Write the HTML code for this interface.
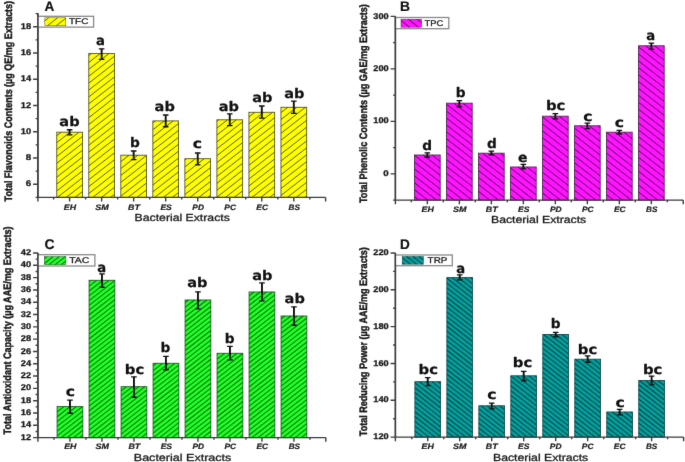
<!DOCTYPE html>
<html lang="en">
<head>
<meta charset="utf-8">
<title>Bacterial Extracts: TFC, TPC, TAC, TRP</title>
<style>
html,body{margin:0;padding:0;background:#fff;}
body{width:685px;height:462px;overflow:hidden;}
svg{display:block;font-family:"Liberation Sans",Arial,Helvetica,sans-serif;text-rendering:geometricPrecision;}
</style>
</head>
<body>
<svg width="685" height="462" viewBox="0 0 685 462">
<defs>
<filter id="soft" filterUnits="userSpaceOnUse" x="0" y="0" width="685" height="462" color-interpolation-filters="sRGB"><feConvolveMatrix order="3" kernelMatrix="0.0052 0.0619 0.0052 0.0619 0.7314 0.0619 0.0052 0.0619 0.0052" edgeMode="duplicate" preserveAlpha="true"/></filter>
</defs>
<g filter="url(#soft)">
<rect width="685" height="462" fill="#fff"/>
<g id="panelA">
<rect x="56.75" y="132.2" width="25.7" height="65.2" fill="#ffff00"/><path d="M56.75 135.74L61.28 132.2M56.75 142.64L70.13 132.2M56.75 149.54L78.97 132.2M56.75 156.44L82.45 136.39M56.75 163.34L82.45 143.29M56.75 170.24L82.45 150.19M56.75 177.14L82.45 157.09M56.75 184.04L82.45 163.99M56.75 190.94L82.45 170.89M57.31 197.4L82.45 177.79M66.15 197.4L82.45 184.69M75 197.4L82.45 191.59" fill="none" stroke="#555500" stroke-width="0.95"/><rect x="56.75" y="132.2" width="25.7" height="65.2" fill="none" stroke="#55552a" stroke-width="0.9"/>
<rect x="88.78" y="53.5" width="25.7" height="143.9" fill="#ffff00"/><path d="M88.78 55.55L91.41 53.5M88.78 62.45L100.26 53.5M88.78 69.35L109.1 53.5M88.78 76.25L114.48 56.21M88.78 83.15L114.48 63.11M88.78 90.05L114.48 70.01M88.78 96.95L114.48 76.91M88.78 103.85L114.48 83.81M88.78 110.75L114.48 90.71M88.78 117.65L114.48 97.61M88.78 124.55L114.48 104.51M88.78 131.45L114.48 111.41M88.78 138.35L114.48 118.31M88.78 145.25L114.48 125.21M88.78 152.15L114.48 132.11M88.78 159.05L114.48 139.01M88.78 165.95L114.48 145.91M88.78 172.85L114.48 152.81M88.78 179.75L114.48 159.71M88.78 186.65L114.48 166.61M88.78 193.55L114.48 173.51M92.69 197.4L114.48 180.41M101.54 197.4L114.48 187.31M110.38 197.4L114.48 194.21" fill="none" stroke="#555500" stroke-width="0.95"/><rect x="88.78" y="53.5" width="25.7" height="143.9" fill="none" stroke="#55552a" stroke-width="0.9"/>
<rect x="120.81" y="155.2" width="25.7" height="42.2" fill="#ffff00"/><path d="M120.81 161.67L129.1 155.2M120.81 168.57L137.95 155.2M120.81 175.47L146.51 155.42M120.81 182.37L146.51 162.32M120.81 189.27L146.51 169.22M120.81 196.17L146.51 176.12M128.08 197.4L146.51 183.02M136.92 197.4L146.51 189.92M145.77 197.4L146.51 196.82" fill="none" stroke="#555500" stroke-width="0.95"/><rect x="120.81" y="155.2" width="25.7" height="42.2" fill="none" stroke="#55552a" stroke-width="0.9"/>
<rect x="152.84" y="120.9" width="25.7" height="76.5" fill="#ffff00"/><path d="M152.84 122.88L155.38 120.9M152.84 129.78L164.23 120.9M152.84 136.68L173.08 120.9M152.84 143.58L178.54 123.54M152.84 150.48L178.54 130.44M152.84 157.38L178.54 137.34M152.84 164.28L178.54 144.24M152.84 171.18L178.54 151.14M152.84 178.08L178.54 158.04M152.84 184.98L178.54 164.94M152.84 191.88L178.54 171.84M154.62 197.4L178.54 178.74M163.46 197.4L178.54 185.64M172.31 197.4L178.54 192.54" fill="none" stroke="#555500" stroke-width="0.95"/><rect x="152.84" y="120.9" width="25.7" height="76.5" fill="none" stroke="#55552a" stroke-width="0.9"/>
<rect x="184.87" y="158.7" width="25.7" height="38.7" fill="#ffff00"/><path d="M184.87 160L186.54 158.7M184.87 166.9L195.38 158.7M184.87 173.8L204.23 158.7M184.87 180.7L210.57 160.66M184.87 187.6L210.57 167.56M184.87 194.5L210.57 174.46M190 197.4L210.57 181.36M198.85 197.4L210.57 188.26M207.69 197.4L210.57 195.16" fill="none" stroke="#555500" stroke-width="0.95"/><rect x="184.87" y="158.7" width="25.7" height="38.7" fill="none" stroke="#55552a" stroke-width="0.9"/>
<rect x="216.9" y="119.8" width="25.7" height="77.6" fill="#ffff00"/><path d="M216.9 121.22L218.72 119.8M216.9 128.12L227.56 119.8M216.9 135.02L236.41 119.8M216.9 141.92L242.6 121.87M216.9 148.82L242.6 128.77M216.9 155.72L242.6 135.67M216.9 162.62L242.6 142.57M216.9 169.52L242.6 149.47M216.9 176.42L242.6 156.37M216.9 183.32L242.6 163.27M216.9 190.22L242.6 170.17M216.9 197.12L242.6 177.07M225.38 197.4L242.6 183.97M234.23 197.4L242.6 190.87" fill="none" stroke="#555500" stroke-width="0.95"/><rect x="216.9" y="119.8" width="25.7" height="77.6" fill="none" stroke="#55552a" stroke-width="0.9"/>
<rect x="248.93" y="112.3" width="25.7" height="85.1" fill="#ffff00"/><path d="M248.93 116.93L254.87 112.3M248.93 123.83L263.72 112.3M248.93 130.73L272.56 112.3M248.93 137.63L274.63 117.59M248.93 144.53L274.63 124.49M248.93 151.43L274.63 131.39M248.93 158.33L274.63 138.29M248.93 165.23L274.63 145.19M248.93 172.13L274.63 152.09M248.93 179.03L274.63 158.99M248.93 185.93L274.63 165.89M248.93 192.83L274.63 172.79M251.92 197.4L274.63 179.69M260.77 197.4L274.63 186.59M269.62 197.4L274.63 193.49" fill="none" stroke="#555500" stroke-width="0.95"/><rect x="248.93" y="112.3" width="25.7" height="85.1" fill="none" stroke="#55552a" stroke-width="0.9"/>
<rect x="280.96" y="107.3" width="25.7" height="90.1" fill="#ffff00"/><path d="M280.96 112.65L287.82 107.3M280.96 119.55L296.67 107.3M280.96 126.45L305.51 107.3M280.96 133.35L306.66 113.31M280.96 140.25L306.66 120.21M280.96 147.15L306.66 127.11M280.96 154.05L306.66 134.01M280.96 160.95L306.66 140.91M280.96 167.85L306.66 147.81M280.96 174.75L306.66 154.71M280.96 181.65L306.66 161.61M280.96 188.55L306.66 168.51M280.96 195.45L306.66 175.41M287.31 197.4L306.66 182.31M296.15 197.4L306.66 189.21M305 197.4L306.66 196.11" fill="none" stroke="#555500" stroke-width="0.95"/><rect x="280.96" y="107.3" width="25.7" height="90.1" fill="none" stroke="#55552a" stroke-width="0.9"/>
<path d="M37.9 13.2V197.4H325.6" fill="none" stroke="#3c3c3c" stroke-width="1.4"/>
<path d="M33.1 184.27H37.9M33.1 158.01H37.9M33.1 131.75H37.9M33.1 105.49H37.9M33.1 79.23H37.9M33.1 52.97H37.9M33.1 26.71H37.9M35.6 197.4H37.9M35.6 171.14H37.9M35.6 144.88H37.9M35.6 118.62H37.9M35.6 92.36H37.9M35.6 66.1H37.9M35.6 39.84H37.9M35.6 13.58H37.9M37.9 197.4V201.5M53.58 197.4V199.6M69.6 197.4V201.5M85.61 197.4V199.6M101.63 197.4V201.5M117.64 197.4V199.6M133.66 197.4V201.5M149.68 197.4V199.6M165.69 197.4V201.5M181.7 197.4V199.6M197.72 197.4V201.5M213.73 197.4V199.6M229.75 197.4V201.5M245.77 197.4V199.6M261.78 197.4V201.5M277.79 197.4V199.6M293.81 197.4V201.5M309.83 197.4V199.6M325.6 197.4V201.5" fill="none" stroke="#3c3c3c" stroke-width="1.4"/>
<text x="25.7" y="186.37" font-size="8.3" fill="#1a1a1a" stroke="#1a1a1a" stroke-width="0.3" stroke-linejoin="round" font-weight="bold" textLength="5.4" lengthAdjust="spacingAndGlyphs">6</text>
<text x="25.7" y="160.11" font-size="8.3" fill="#1a1a1a" stroke="#1a1a1a" stroke-width="0.3" stroke-linejoin="round" font-weight="bold" textLength="5.4" lengthAdjust="spacingAndGlyphs">8</text>
<text x="20.8" y="133.85" font-size="8.3" fill="#1a1a1a" stroke="#1a1a1a" stroke-width="0.3" stroke-linejoin="round" font-weight="bold" textLength="10.3" lengthAdjust="spacingAndGlyphs">10</text>
<text x="20.8" y="107.59" font-size="8.3" fill="#1a1a1a" stroke="#1a1a1a" stroke-width="0.3" stroke-linejoin="round" font-weight="bold" textLength="10.3" lengthAdjust="spacingAndGlyphs">12</text>
<text x="20.8" y="81.33" font-size="8.3" fill="#1a1a1a" stroke="#1a1a1a" stroke-width="0.3" stroke-linejoin="round" font-weight="bold" textLength="10.3" lengthAdjust="spacingAndGlyphs">14</text>
<text x="20.8" y="55.07" font-size="8.3" fill="#1a1a1a" stroke="#1a1a1a" stroke-width="0.3" stroke-linejoin="round" font-weight="bold" textLength="10.3" lengthAdjust="spacingAndGlyphs">16</text>
<text x="20.8" y="28.81" font-size="8.3" fill="#1a1a1a" stroke="#1a1a1a" stroke-width="0.3" stroke-linejoin="round" font-weight="bold" textLength="10.3" lengthAdjust="spacingAndGlyphs">18</text>
<text x="63.85" y="209.5" font-size="7.9" fill="#1a1a1a" stroke="#1a1a1a" stroke-width="0.2" stroke-linejoin="round" font-style="italic" font-weight="bold" textLength="12.3" lengthAdjust="spacingAndGlyphs">EH</text>
<text x="95.28" y="209.5" font-size="7.9" fill="#1a1a1a" stroke="#1a1a1a" stroke-width="0.2" stroke-linejoin="round" font-style="italic" font-weight="bold" textLength="13.5" lengthAdjust="spacingAndGlyphs">SM</text>
<text x="128.11" y="209.5" font-size="7.9" fill="#1a1a1a" stroke="#1a1a1a" stroke-width="0.2" stroke-linejoin="round" font-style="italic" font-weight="bold" textLength="11.9" lengthAdjust="spacingAndGlyphs">BT</text>
<text x="160.44" y="209.5" font-size="7.9" fill="#1a1a1a" stroke="#1a1a1a" stroke-width="0.2" stroke-linejoin="round" font-style="italic" font-weight="bold" textLength="11.3" lengthAdjust="spacingAndGlyphs">ES</text>
<text x="192.27" y="209.5" font-size="7.9" fill="#1a1a1a" stroke="#1a1a1a" stroke-width="0.2" stroke-linejoin="round" font-style="italic" font-weight="bold" textLength="11.7" lengthAdjust="spacingAndGlyphs">PD</text>
<text x="224.3" y="209.5" font-size="7.9" fill="#1a1a1a" stroke="#1a1a1a" stroke-width="0.2" stroke-linejoin="round" font-style="italic" font-weight="bold" textLength="11.7" lengthAdjust="spacingAndGlyphs">PC</text>
<text x="256.33" y="209.5" font-size="7.9" fill="#1a1a1a" stroke="#1a1a1a" stroke-width="0.2" stroke-linejoin="round" font-style="italic" font-weight="bold" textLength="11.7" lengthAdjust="spacingAndGlyphs">EC</text>
<text x="288.56" y="209.5" font-size="7.9" fill="#1a1a1a" stroke="#1a1a1a" stroke-width="0.2" stroke-linejoin="round" font-style="italic" font-weight="bold" textLength="11.3" lengthAdjust="spacingAndGlyphs">BS</text>
<text x="59.35" y="125.7" font-size="13.2" fill="#111" font-family="DejaVu Sans, Liberation Sans, sans-serif" stroke="#111" stroke-width="0.25" stroke-linejoin="round" font-weight="bold" textLength="20.2" lengthAdjust="spacingAndGlyphs">ab</text>
<text x="96.05" y="44.5" font-size="13.2" fill="#111" font-family="DejaVu Sans, Liberation Sans, sans-serif" stroke="#111" stroke-width="0.25" stroke-linejoin="round" font-weight="bold" textLength="8.9" lengthAdjust="spacingAndGlyphs">a</text>
<text x="130.1" y="147.4" font-size="13.2" fill="#111" font-family="DejaVu Sans, Liberation Sans, sans-serif" stroke="#111" stroke-width="0.25" stroke-linejoin="round" font-weight="bold" textLength="9.8" lengthAdjust="spacingAndGlyphs">b</text>
<text x="154.6" y="111.2" font-size="13.2" fill="#111" font-family="DejaVu Sans, Liberation Sans, sans-serif" stroke="#111" stroke-width="0.25" stroke-linejoin="round" font-weight="bold" textLength="20.2" lengthAdjust="spacingAndGlyphs">ab</text>
<text x="192.65" y="147.6" font-size="13.2" fill="#111" font-family="DejaVu Sans, Liberation Sans, sans-serif" stroke="#111" stroke-width="0.25" stroke-linejoin="round" font-weight="bold" textLength="9.3" lengthAdjust="spacingAndGlyphs">c</text>
<text x="218.7" y="110.8" font-size="13.2" fill="#111" font-family="DejaVu Sans, Liberation Sans, sans-serif" stroke="#111" stroke-width="0.25" stroke-linejoin="round" font-weight="bold" textLength="20.2" lengthAdjust="spacingAndGlyphs">ab</text>
<text x="252.3" y="102.3" font-size="13.2" fill="#111" font-family="DejaVu Sans, Liberation Sans, sans-serif" stroke="#111" stroke-width="0.25" stroke-linejoin="round" font-weight="bold" textLength="20.2" lengthAdjust="spacingAndGlyphs">ab</text>
<text x="284.2" y="97.5" font-size="13.2" fill="#111" font-family="DejaVu Sans, Liberation Sans, sans-serif" stroke="#111" stroke-width="0.25" stroke-linejoin="round" font-weight="bold" textLength="20.2" lengthAdjust="spacingAndGlyphs">ab</text>
<path d="M66.8 129.7H72.4M66.8 134.8H72.4M98.83 48.8H104.43M98.83 59.3H104.43M130.86 151H136.46M130.86 159.6H136.46M162.89 115H168.49M162.89 126.7H168.49M194.92 153H200.52M194.92 164.8H200.52M226.95 113.8H232.55M226.95 125.6H232.55M258.98 106H264.58M258.98 118.1H264.58M291.01 101.1H296.61M291.01 113.3H296.61" fill="none" stroke="#111" stroke-width="1.35"/>
<path d="M69.6 129.7V134.8M101.63 48.8V59.3M133.66 151V159.6M165.69 115V126.7M197.72 153V164.8M229.75 113.8V125.6M261.78 106V118.1M293.81 101.1V113.3" fill="none" stroke="#111" stroke-width="1.9"/>
<rect x="37.9" y="16.3" width="55.7" height="10.8" fill="#fff" stroke="#8a8a8a" stroke-width="1.3"/>
<rect x="44.8" y="17.8" width="21" height="7.9" fill="#ffff00"/><path d="M44.8 20.86L48.72 17.8M47.44 25.7L57.56 17.8M56.28 25.7L65.8 18.28M65.13 25.7L65.8 25.18" fill="none" stroke="#555500" stroke-width="0.95"/><rect x="44.8" y="17.8" width="21" height="7.9" fill="none" stroke="#55552a" stroke-width="0.5"/>
<text x="69.1" y="24.3" font-size="8.3" fill="#222" stroke="#222" stroke-width="0.3" stroke-linejoin="round" textLength="19.2" lengthAdjust="spacingAndGlyphs">TFC</text>
<path d="M37.9 13.2V197.4" fill="none" stroke="#3c3c3c" stroke-width="1.4"/>
<text x="44.6" y="10.9" font-size="13.8" fill="#111" font-family="Liberation Sans, Arial, sans-serif" stroke="#111" stroke-width="0.2" stroke-linejoin="round" font-weight="bold" textLength="9.8" lengthAdjust="spacingAndGlyphs">A</text>
<text x="-100.25" y="0" transform="translate(11.8 101.15) rotate(-90)" font-size="10.8" font-weight="bold" fill="#1a1a1a" stroke="#1a1a1a" stroke-width="0.45" textLength="200.5" lengthAdjust="spacingAndGlyphs">Total Flavonoids Contents (µg QE/mg Extracts)</text>
<text x="134.6" y="221.2" font-size="10.2" fill="#1a1a1a" stroke="#1a1a1a" stroke-width="0.3" stroke-linejoin="round" textLength="95.2" lengthAdjust="spacingAndGlyphs">Bacterial Extracts</text>
</g>
<g id="panelB">
<rect x="414.5" y="155" width="25.7" height="45.1" fill="#ff14ff"/><path d="M431.92 155L440.2 161.46M423.08 155L440.2 168.36M414.5 155.21L440.2 175.26M414.5 162.11L440.2 182.16M414.5 169.01L440.2 189.06M414.5 175.91L440.2 195.96M414.5 182.81L436.67 200.1M414.5 189.71L427.82 200.1M414.5 196.61L418.97 200.1" fill="none" stroke="#550055" stroke-width="0.95"/><rect x="414.5" y="155" width="25.7" height="45.1" fill="none" stroke="#552a55" stroke-width="0.9"/>
<rect x="446.5" y="103.2" width="25.7" height="96.9" fill="#ff14ff"/><path d="M471.67 103.2L472.2 103.62M462.82 103.2L472.2 110.52M453.97 103.2L472.2 117.42M446.5 104.27L472.2 124.32M446.5 111.17L472.2 131.22M446.5 118.07L472.2 138.12M446.5 124.97L472.2 145.02M446.5 131.87L472.2 151.92M446.5 138.77L472.2 158.82M446.5 145.67L472.2 165.72M446.5 152.57L472.2 172.62M446.5 159.47L472.2 179.52M446.5 166.37L472.2 186.42M446.5 173.27L472.2 193.32M446.5 180.17L472.05 200.1M446.5 187.07L463.21 200.1M446.5 193.97L454.36 200.1" fill="none" stroke="#550055" stroke-width="0.95"/><rect x="446.5" y="103.2" width="25.7" height="96.9" fill="none" stroke="#552a55" stroke-width="0.9"/>
<rect x="478.5" y="153.2" width="25.7" height="46.9" fill="#ff14ff"/><path d="M500.38 153.2L504.2 156.18M491.54 153.2L504.2 163.08M482.69 153.2L504.2 169.98M478.5 156.83L504.2 176.88M478.5 163.73L504.2 183.78M478.5 170.63L504.2 190.68M478.5 177.53L504.2 197.58M478.5 184.43L498.59 200.1M478.5 191.33L489.74 200.1M478.5 198.23L480.9 200.1" fill="none" stroke="#550055" stroke-width="0.95"/><rect x="478.5" y="153.2" width="25.7" height="46.9" fill="none" stroke="#552a55" stroke-width="0.9"/>
<rect x="510.5" y="167" width="25.7" height="33.1" fill="#ff14ff"/><path d="M535.77 167L536.2 167.34M526.92 167L536.2 174.24M518.08 167L536.2 181.14M510.5 167.99L536.2 188.04M510.5 174.89L536.2 194.94M510.5 181.79L533.97 200.1M510.5 188.69L525.13 200.1M510.5 195.59L516.28 200.1" fill="none" stroke="#550055" stroke-width="0.95"/><rect x="510.5" y="167" width="25.7" height="33.1" fill="none" stroke="#552a55" stroke-width="0.9"/>
<rect x="542.5" y="116.2" width="25.7" height="83.9" fill="#ff14ff"/><path d="M567.95 116.2L568.2 116.4M559.1 116.2L568.2 123.3M550.26 116.2L568.2 130.2M542.5 117.05L568.2 137.1M542.5 123.95L568.2 144M542.5 130.85L568.2 150.9M542.5 137.75L568.2 157.8M542.5 144.65L568.2 164.7M542.5 151.55L568.2 171.6M542.5 158.45L568.2 178.5M542.5 165.35L568.2 185.4M542.5 172.25L568.2 192.3M542.5 179.15L568.2 199.2M542.5 186.05L560.51 200.1M542.5 192.95L551.67 200.1M542.5 199.85L542.82 200.1" fill="none" stroke="#550055" stroke-width="0.95"/><rect x="542.5" y="116.2" width="25.7" height="83.9" fill="none" stroke="#552a55" stroke-width="0.9"/>
<rect x="574.5" y="125.8" width="25.7" height="74.3" fill="#ff14ff"/><path d="M597.95 125.8L600.2 127.56M589.1 125.8L600.2 134.46M580.26 125.8L600.2 141.36M574.5 128.21L600.2 148.26M574.5 135.11L600.2 155.16M574.5 142.01L600.2 162.06M574.5 148.91L600.2 168.96M574.5 155.81L600.2 175.86M574.5 162.71L600.2 182.76M574.5 169.61L600.2 189.66M574.5 176.51L600.2 196.56M574.5 183.41L595.9 200.1M574.5 190.31L587.05 200.1M574.5 197.21L578.21 200.1" fill="none" stroke="#550055" stroke-width="0.95"/><rect x="574.5" y="125.8" width="25.7" height="74.3" fill="none" stroke="#552a55" stroke-width="0.9"/>
<rect x="606.5" y="132.2" width="25.7" height="67.9" fill="#ff14ff"/><path d="M623.85 132.2L632.2 138.72M615 132.2L632.2 145.62M606.5 132.47L632.2 152.52M606.5 139.37L632.2 159.42M606.5 146.27L632.2 166.32M606.5 153.17L632.2 173.22M606.5 160.07L632.2 180.12M606.5 166.97L632.2 187.02M606.5 173.87L632.2 193.92M606.5 180.77L631.28 200.1M606.5 187.67L622.44 200.1M606.5 194.57L613.59 200.1" fill="none" stroke="#550055" stroke-width="0.95"/><rect x="606.5" y="132.2" width="25.7" height="67.9" fill="none" stroke="#552a55" stroke-width="0.9"/>
<rect x="638.5" y="45.8" width="25.7" height="154.3" fill="#ff14ff"/><path d="M663.46 45.8L664.2 46.38M654.62 45.8L664.2 53.28M645.77 45.8L664.2 60.18M638.5 47.03L664.2 67.08M638.5 53.93L664.2 73.98M638.5 60.83L664.2 80.88M638.5 67.73L664.2 87.78M638.5 74.63L664.2 94.68M638.5 81.53L664.2 101.58M638.5 88.43L664.2 108.48M638.5 95.33L664.2 115.38M638.5 102.23L664.2 122.28M638.5 109.13L664.2 129.18M638.5 116.03L664.2 136.08M638.5 122.93L664.2 142.98M638.5 129.83L664.2 149.88M638.5 136.73L664.2 156.78M638.5 143.63L664.2 163.68M638.5 150.53L664.2 170.58M638.5 157.43L664.2 177.48M638.5 164.33L664.2 184.38M638.5 171.23L664.2 191.28M638.5 178.13L664.2 198.18M638.5 185.03L657.82 200.1M638.5 191.93L648.97 200.1M638.5 198.83L640.13 200.1" fill="none" stroke="#550055" stroke-width="0.95"/><rect x="638.5" y="45.8" width="25.7" height="154.3" fill="none" stroke="#552a55" stroke-width="0.9"/>
<path d="M395.4 16.4V200.1H683.2" fill="none" stroke="#3c3c3c" stroke-width="1.4"/>
<path d="M390.6 173.86H395.4M390.6 121.38H395.4M390.6 68.9H395.4M390.6 16.42H395.4M393.1 200.1H395.4M393.1 147.62H395.4M393.1 95.14H395.4M393.1 42.66H395.4M395.4 200.1V204.2M411.35 200.1V202.3M427.35 200.1V204.2M443.35 200.1V202.3M459.35 200.1V204.2M475.35 200.1V202.3M491.35 200.1V204.2M507.35 200.1V202.3M523.35 200.1V204.2M539.35 200.1V202.3M555.35 200.1V204.2M571.35 200.1V202.3M587.35 200.1V204.2M603.35 200.1V202.3M619.35 200.1V204.2M635.35 200.1V202.3M651.35 200.1V204.2M667.35 200.1V202.3M683.2 200.1V204.2" fill="none" stroke="#3c3c3c" stroke-width="1.4"/>
<text x="383.2" y="175.96" font-size="8.3" fill="#1a1a1a" stroke="#1a1a1a" stroke-width="0.3" stroke-linejoin="round" font-weight="bold" textLength="5.4" lengthAdjust="spacingAndGlyphs">0</text>
<text x="373.3" y="123.48" font-size="8.3" fill="#1a1a1a" stroke="#1a1a1a" stroke-width="0.3" stroke-linejoin="round" font-weight="bold" textLength="15.3" lengthAdjust="spacingAndGlyphs">100</text>
<text x="373.3" y="71" font-size="8.3" fill="#1a1a1a" stroke="#1a1a1a" stroke-width="0.3" stroke-linejoin="round" font-weight="bold" textLength="15.3" lengthAdjust="spacingAndGlyphs">200</text>
<text x="373.3" y="18.52" font-size="8.3" fill="#1a1a1a" stroke="#1a1a1a" stroke-width="0.3" stroke-linejoin="round" font-weight="bold" textLength="15.3" lengthAdjust="spacingAndGlyphs">300</text>
<text x="421.6" y="211.8" font-size="7.9" fill="#1a1a1a" stroke="#1a1a1a" stroke-width="0.2" stroke-linejoin="round" font-style="italic" font-weight="bold" textLength="12.3" lengthAdjust="spacingAndGlyphs">EH</text>
<text x="453" y="211.8" font-size="7.9" fill="#1a1a1a" stroke="#1a1a1a" stroke-width="0.2" stroke-linejoin="round" font-style="italic" font-weight="bold" textLength="13.5" lengthAdjust="spacingAndGlyphs">SM</text>
<text x="485.8" y="211.8" font-size="7.9" fill="#1a1a1a" stroke="#1a1a1a" stroke-width="0.2" stroke-linejoin="round" font-style="italic" font-weight="bold" textLength="11.9" lengthAdjust="spacingAndGlyphs">BT</text>
<text x="518.1" y="211.8" font-size="7.9" fill="#1a1a1a" stroke="#1a1a1a" stroke-width="0.2" stroke-linejoin="round" font-style="italic" font-weight="bold" textLength="11.3" lengthAdjust="spacingAndGlyphs">ES</text>
<text x="549.9" y="211.8" font-size="7.9" fill="#1a1a1a" stroke="#1a1a1a" stroke-width="0.2" stroke-linejoin="round" font-style="italic" font-weight="bold" textLength="11.7" lengthAdjust="spacingAndGlyphs">PD</text>
<text x="581.9" y="211.8" font-size="7.9" fill="#1a1a1a" stroke="#1a1a1a" stroke-width="0.2" stroke-linejoin="round" font-style="italic" font-weight="bold" textLength="11.7" lengthAdjust="spacingAndGlyphs">PC</text>
<text x="613.9" y="211.8" font-size="7.9" fill="#1a1a1a" stroke="#1a1a1a" stroke-width="0.2" stroke-linejoin="round" font-style="italic" font-weight="bold" textLength="11.7" lengthAdjust="spacingAndGlyphs">EC</text>
<text x="646.1" y="211.8" font-size="7.9" fill="#1a1a1a" stroke="#1a1a1a" stroke-width="0.2" stroke-linejoin="round" font-style="italic" font-weight="bold" textLength="11.3" lengthAdjust="spacingAndGlyphs">BS</text>
<text x="422.2" y="150" font-size="13.2" fill="#111" font-family="DejaVu Sans, Liberation Sans, sans-serif" stroke="#111" stroke-width="0.25" stroke-linejoin="round" font-weight="bold" textLength="9.8" lengthAdjust="spacingAndGlyphs">d</text>
<text x="455.8" y="96.7" font-size="13.2" fill="#111" font-family="DejaVu Sans, Liberation Sans, sans-serif" stroke="#111" stroke-width="0.25" stroke-linejoin="round" font-weight="bold" textLength="9.8" lengthAdjust="spacingAndGlyphs">b</text>
<text x="487" y="148.4" font-size="13.2" fill="#111" font-family="DejaVu Sans, Liberation Sans, sans-serif" stroke="#111" stroke-width="0.25" stroke-linejoin="round" font-weight="bold" textLength="9.8" lengthAdjust="spacingAndGlyphs">d</text>
<text x="518.05" y="161.7" font-size="13.2" fill="#111" font-family="DejaVu Sans, Liberation Sans, sans-serif" stroke="#111" stroke-width="0.25" stroke-linejoin="round" font-weight="bold" textLength="9.5" lengthAdjust="spacingAndGlyphs">e</text>
<text x="545.9" y="110" font-size="13.2" fill="#111" font-family="DejaVu Sans, Liberation Sans, sans-serif" stroke="#111" stroke-width="0.25" stroke-linejoin="round" font-weight="bold" textLength="19.4" lengthAdjust="spacingAndGlyphs">bc</text>
<text x="583.15" y="120.5" font-size="13.2" fill="#111" font-family="DejaVu Sans, Liberation Sans, sans-serif" stroke="#111" stroke-width="0.25" stroke-linejoin="round" font-weight="bold" textLength="9.3" lengthAdjust="spacingAndGlyphs">c</text>
<text x="614.85" y="127.2" font-size="13.2" fill="#111" font-family="DejaVu Sans, Liberation Sans, sans-serif" stroke="#111" stroke-width="0.25" stroke-linejoin="round" font-weight="bold" textLength="9.3" lengthAdjust="spacingAndGlyphs">c</text>
<text x="646.15" y="39.7" font-size="13.2" fill="#111" font-family="DejaVu Sans, Liberation Sans, sans-serif" stroke="#111" stroke-width="0.25" stroke-linejoin="round" font-weight="bold" textLength="8.9" lengthAdjust="spacingAndGlyphs">a</text>
<path d="M424.55 152.8H430.15M424.55 157.2H430.15M456.55 100.6H462.15M456.55 106.9H462.15M488.55 151.1H494.15M488.55 154.9H494.15M520.55 164.4H526.15M520.55 168.9H526.15M552.55 113.6H558.15M552.55 118.9H558.15M584.55 123.1H590.15M584.55 128.6H590.15M616.55 130.4H622.15M616.55 134H622.15M648.55 43.1H654.15M648.55 49.4H654.15" fill="none" stroke="#111" stroke-width="1.35"/>
<path d="M427.35 152.8V157.2M459.35 100.6V106.9M491.35 151.1V154.9M523.35 164.4V168.9M555.35 113.6V118.9M587.35 123.1V128.6M619.35 130.4V134M651.35 43.1V49.4" fill="none" stroke="#111" stroke-width="1.9"/>
<rect x="395.4" y="17.5" width="53.4" height="11.2" fill="#fff" stroke="#8a8a8a" stroke-width="1.3"/>
<rect x="401" y="19.2" width="20.6" height="8" fill="#ff14ff"/><path d="M417.05 19.2L421.6 22.75M408.21 19.2L418.46 27.2M401 20.48L409.62 27.2" fill="none" stroke="#550055" stroke-width="0.95"/><rect x="401" y="19.2" width="20.6" height="8" fill="none" stroke="#552a55" stroke-width="0.5"/>
<text x="424.4" y="25.9" font-size="8.3" fill="#222" stroke="#222" stroke-width="0.3" stroke-linejoin="round" textLength="18.9" lengthAdjust="spacingAndGlyphs">TPC</text>
<path d="M395.4 16.4V200.1" fill="none" stroke="#3c3c3c" stroke-width="1.4"/>
<text x="400" y="10.7" font-size="13.8" fill="#111" font-family="Liberation Sans, Arial, sans-serif" stroke="#111" stroke-width="0.2" stroke-linejoin="round" font-weight="bold" textLength="10" lengthAdjust="spacingAndGlyphs">B</text>
<text x="-99.4" y="0" transform="translate(366.6 103.6) rotate(-90)" font-size="10.8" font-weight="bold" fill="#1a1a1a" stroke="#1a1a1a" stroke-width="0.45" textLength="198.8" lengthAdjust="spacingAndGlyphs">Total Phenolic Contents (µg GAE/mg Extracts)</text>
<text x="491" y="222.7" font-size="10.2" fill="#1a1a1a" stroke="#1a1a1a" stroke-width="0.3" stroke-linejoin="round" textLength="95.2" lengthAdjust="spacingAndGlyphs">Bacterial Extracts</text>
</g>
<g id="panelC">
<rect x="57.1" y="406.6" width="25.7" height="31" fill="#20ff2a"/><path d="M57.1 407.16L57.82 406.6M57.1 411.96L63.97 406.6M57.1 416.76L70.13 406.6M57.1 421.56L76.28 406.6M57.1 426.36L82.44 406.6M57.1 431.16L82.8 411.12M57.1 435.96L82.8 415.92M61.15 437.6L82.8 420.72M67.31 437.6L82.8 425.52M73.46 437.6L82.8 430.32M79.62 437.6L82.8 435.12" fill="none" stroke="#007400" stroke-width="1.05"/><rect x="57.1" y="406.6" width="25.7" height="31" fill="none" stroke="#2a552a" stroke-width="0.9"/>
<rect x="89.1" y="280.3" width="25.7" height="157.3" fill="#20ff2a"/><path d="M89.1 281.4L90.51 280.3M89.1 286.2L96.67 280.3M89.1 291L102.82 280.3M89.1 295.8L108.97 280.3M89.1 300.6L114.8 280.56M89.1 305.4L114.8 285.36M89.1 310.2L114.8 290.16M89.1 315L114.8 294.96M89.1 319.8L114.8 299.76M89.1 324.6L114.8 304.56M89.1 329.4L114.8 309.36M89.1 334.2L114.8 314.16M89.1 339L114.8 318.96M89.1 343.8L114.8 323.76M89.1 348.6L114.8 328.56M89.1 353.4L114.8 333.36M89.1 358.2L114.8 338.16M89.1 363L114.8 342.96M89.1 367.8L114.8 347.76M89.1 372.6L114.8 352.56M89.1 377.4L114.8 357.36M89.1 382.2L114.8 362.16M89.1 387L114.8 366.96M89.1 391.8L114.8 371.76M89.1 396.6L114.8 376.56M89.1 401.4L114.8 381.36M89.1 406.2L114.8 386.16M89.1 411L114.8 390.96M89.1 415.8L114.8 395.76M89.1 420.6L114.8 400.56M89.1 425.4L114.8 405.36M89.1 430.2L114.8 410.16M89.1 435L114.8 414.96M91.92 437.6L114.8 419.76M98.08 437.6L114.8 424.56M104.23 437.6L114.8 429.36M110.38 437.6L114.8 434.16" fill="none" stroke="#007400" stroke-width="1.05"/><rect x="89.1" y="280.3" width="25.7" height="157.3" fill="none" stroke="#2a552a" stroke-width="0.9"/>
<rect x="121.1" y="386.7" width="25.7" height="50.9" fill="#20ff2a"/><path d="M121.1 390.84L126.41 386.7M121.1 395.64L132.56 386.7M121.1 400.44L138.72 386.7M121.1 405.24L144.87 386.7M121.1 410.04L146.8 390M121.1 414.84L146.8 394.8M121.1 419.64L146.8 399.6M121.1 424.44L146.8 404.4M121.1 429.24L146.8 409.2M121.1 434.04L146.8 414M122.69 437.6L146.8 418.8M128.85 437.6L146.8 423.6M135 437.6L146.8 428.4M141.15 437.6L146.8 433.2" fill="none" stroke="#007400" stroke-width="1.05"/><rect x="121.1" y="386.7" width="25.7" height="50.9" fill="none" stroke="#2a552a" stroke-width="0.9"/>
<rect x="153.1" y="363.3" width="25.7" height="74.3" fill="#20ff2a"/><path d="M153.1 365.88L156.41 363.3M153.1 370.68L162.56 363.3M153.1 375.48L168.72 363.3M153.1 380.28L174.87 363.3M153.1 385.08L178.8 365.04M153.1 389.88L178.8 369.84M153.1 394.68L178.8 374.64M153.1 399.48L178.8 379.44M153.1 404.28L178.8 384.24M153.1 409.08L178.8 389.04M153.1 413.88L178.8 393.84M153.1 418.68L178.8 398.64M153.1 423.48L178.8 403.44M153.1 428.28L178.8 408.24M153.1 433.08L178.8 413.04M153.46 437.6L178.8 417.84M159.62 437.6L178.8 422.64M165.77 437.6L178.8 427.44M171.92 437.6L178.8 432.24M178.08 437.6L178.8 437.04" fill="none" stroke="#007400" stroke-width="1.05"/><rect x="153.1" y="363.3" width="25.7" height="74.3" fill="none" stroke="#2a552a" stroke-width="0.9"/>
<rect x="185.1" y="300" width="25.7" height="137.6" fill="#20ff2a"/><path d="M185.1 302.52L188.33 300M185.1 307.32L194.49 300M185.1 312.12L200.64 300M185.1 316.92L206.79 300M185.1 321.72L210.8 301.68M185.1 326.52L210.8 306.48M185.1 331.32L210.8 311.28M185.1 336.12L210.8 316.08M185.1 340.92L210.8 320.88M185.1 345.72L210.8 325.68M185.1 350.52L210.8 330.48M185.1 355.32L210.8 335.28M185.1 360.12L210.8 340.08M185.1 364.92L210.8 344.88M185.1 369.72L210.8 349.68M185.1 374.52L210.8 354.48M185.1 379.32L210.8 359.28M185.1 384.12L210.8 364.08M185.1 388.92L210.8 368.88M185.1 393.72L210.8 373.68M185.1 398.52L210.8 378.48M185.1 403.32L210.8 383.28M185.1 408.12L210.8 388.08M185.1 412.92L210.8 392.88M185.1 417.72L210.8 397.68M185.1 422.52L210.8 402.48M185.1 427.32L210.8 407.28M185.1 432.12L210.8 412.08M185.1 436.92L210.8 416.88M190.38 437.6L210.8 421.68M196.54 437.6L210.8 426.48M202.69 437.6L210.8 431.28M208.85 437.6L210.8 436.08" fill="none" stroke="#007400" stroke-width="1.05"/><rect x="185.1" y="300" width="25.7" height="137.6" fill="none" stroke="#2a552a" stroke-width="0.9"/>
<rect x="217.1" y="353.3" width="25.7" height="84.3" fill="#20ff2a"/><path d="M217.1 354.36L218.46 353.3M217.1 359.16L224.62 353.3M217.1 363.96L230.77 353.3M217.1 368.76L236.92 353.3M217.1 373.56L242.8 353.52M217.1 378.36L242.8 358.32M217.1 383.16L242.8 363.12M217.1 387.96L242.8 367.92M217.1 392.76L242.8 372.72M217.1 397.56L242.8 377.52M217.1 402.36L242.8 382.32M217.1 407.16L242.8 387.12M217.1 411.96L242.8 391.92M217.1 416.76L242.8 396.72M217.1 421.56L242.8 401.52M217.1 426.36L242.8 406.32M217.1 431.16L242.8 411.12M217.1 435.96L242.8 415.92M221.15 437.6L242.8 420.72M227.31 437.6L242.8 425.52M233.46 437.6L242.8 430.32M239.62 437.6L242.8 435.12" fill="none" stroke="#007400" stroke-width="1.05"/><rect x="217.1" y="353.3" width="25.7" height="84.3" fill="none" stroke="#2a552a" stroke-width="0.9"/>
<rect x="249.1" y="292" width="25.7" height="145.6" fill="#20ff2a"/><path d="M249.1 295.8L253.97 292M249.1 300.6L260.13 292M249.1 305.4L266.28 292M249.1 310.2L272.44 292M249.1 315L274.8 294.96M249.1 319.8L274.8 299.76M249.1 324.6L274.8 304.56M249.1 329.4L274.8 309.36M249.1 334.2L274.8 314.16M249.1 339L274.8 318.96M249.1 343.8L274.8 323.76M249.1 348.6L274.8 328.56M249.1 353.4L274.8 333.36M249.1 358.2L274.8 338.16M249.1 363L274.8 342.96M249.1 367.8L274.8 347.76M249.1 372.6L274.8 352.56M249.1 377.4L274.8 357.36M249.1 382.2L274.8 362.16M249.1 387L274.8 366.96M249.1 391.8L274.8 371.76M249.1 396.6L274.8 376.56M249.1 401.4L274.8 381.36M249.1 406.2L274.8 386.16M249.1 411L274.8 390.96M249.1 415.8L274.8 395.76M249.1 420.6L274.8 400.56M249.1 425.4L274.8 405.36M249.1 430.2L274.8 410.16M249.1 435L274.8 414.96M251.92 437.6L274.8 419.76M258.08 437.6L274.8 424.56M264.23 437.6L274.8 429.36M270.38 437.6L274.8 434.16" fill="none" stroke="#007400" stroke-width="1.05"/><rect x="249.1" y="292" width="25.7" height="145.6" fill="none" stroke="#2a552a" stroke-width="0.9"/>
<rect x="281.1" y="316" width="25.7" height="121.6" fill="#20ff2a"/><path d="M281.1 318.84L284.74 316M281.1 323.64L290.9 316M281.1 328.44L297.05 316M281.1 333.24L303.21 316M281.1 338.04L306.8 318M281.1 342.84L306.8 322.8M281.1 347.64L306.8 327.6M281.1 352.44L306.8 332.4M281.1 357.24L306.8 337.2M281.1 362.04L306.8 342M281.1 366.84L306.8 346.8M281.1 371.64L306.8 351.6M281.1 376.44L306.8 356.4M281.1 381.24L306.8 361.2M281.1 386.04L306.8 366M281.1 390.84L306.8 370.8M281.1 395.64L306.8 375.6M281.1 400.44L306.8 380.4M281.1 405.24L306.8 385.2M281.1 410.04L306.8 390M281.1 414.84L306.8 394.8M281.1 419.64L306.8 399.6M281.1 424.44L306.8 404.4M281.1 429.24L306.8 409.2M281.1 434.04L306.8 414M282.69 437.6L306.8 418.8M288.85 437.6L306.8 423.6M295 437.6L306.8 428.4M301.15 437.6L306.8 433.2" fill="none" stroke="#007400" stroke-width="1.05"/><rect x="281.1" y="316" width="25.7" height="121.6" fill="none" stroke="#2a552a" stroke-width="0.9"/>
<path d="M37.9 253V437.6H325.8" fill="none" stroke="#3c3c3c" stroke-width="1.4"/>
<path d="M33.1 437.6H37.9M33.1 425.29H37.9M33.1 412.99H37.9M33.1 400.68H37.9M33.1 388.38H37.9M33.1 376.07H37.9M33.1 363.76H37.9M33.1 351.46H37.9M33.1 339.15H37.9M33.1 326.85H37.9M33.1 314.54H37.9M33.1 302.23H37.9M33.1 289.93H37.9M33.1 277.62H37.9M33.1 265.32H37.9M33.1 253.01H37.9M35.6 431.45H37.9M35.6 419.14H37.9M35.6 406.84H37.9M35.6 394.53H37.9M35.6 382.22H37.9M35.6 369.92H37.9M35.6 357.61H37.9M35.6 345.31H37.9M35.6 333H37.9M35.6 320.69H37.9M35.6 308.39H37.9M35.6 296.08H37.9M35.6 283.78H37.9M35.6 271.47H37.9M35.6 259.16H37.9M37.9 437.6V441.7M53.95 437.6V439.8M69.95 437.6V441.7M85.95 437.6V439.8M101.95 437.6V441.7M117.95 437.6V439.8M133.95 437.6V441.7M149.95 437.6V439.8M165.95 437.6V441.7M181.95 437.6V439.8M197.95 437.6V441.7M213.95 437.6V439.8M229.95 437.6V441.7M245.95 437.6V439.8M261.95 437.6V441.7M277.95 437.6V439.8M293.95 437.6V441.7M309.95 437.6V439.8M325.8 437.6V441.7" fill="none" stroke="#3c3c3c" stroke-width="1.4"/>
<text x="20.8" y="439.7" font-size="8.3" fill="#1a1a1a" stroke="#1a1a1a" stroke-width="0.3" stroke-linejoin="round" font-weight="bold" textLength="10.3" lengthAdjust="spacingAndGlyphs">12</text>
<text x="20.8" y="427.39" font-size="8.3" fill="#1a1a1a" stroke="#1a1a1a" stroke-width="0.3" stroke-linejoin="round" font-weight="bold" textLength="10.3" lengthAdjust="spacingAndGlyphs">14</text>
<text x="20.8" y="415.09" font-size="8.3" fill="#1a1a1a" stroke="#1a1a1a" stroke-width="0.3" stroke-linejoin="round" font-weight="bold" textLength="10.3" lengthAdjust="spacingAndGlyphs">16</text>
<text x="20.8" y="402.78" font-size="8.3" fill="#1a1a1a" stroke="#1a1a1a" stroke-width="0.3" stroke-linejoin="round" font-weight="bold" textLength="10.3" lengthAdjust="spacingAndGlyphs">18</text>
<text x="20.8" y="390.48" font-size="8.3" fill="#1a1a1a" stroke="#1a1a1a" stroke-width="0.3" stroke-linejoin="round" font-weight="bold" textLength="10.3" lengthAdjust="spacingAndGlyphs">20</text>
<text x="20.8" y="378.17" font-size="8.3" fill="#1a1a1a" stroke="#1a1a1a" stroke-width="0.3" stroke-linejoin="round" font-weight="bold" textLength="10.3" lengthAdjust="spacingAndGlyphs">22</text>
<text x="20.8" y="365.86" font-size="8.3" fill="#1a1a1a" stroke="#1a1a1a" stroke-width="0.3" stroke-linejoin="round" font-weight="bold" textLength="10.3" lengthAdjust="spacingAndGlyphs">24</text>
<text x="20.8" y="353.56" font-size="8.3" fill="#1a1a1a" stroke="#1a1a1a" stroke-width="0.3" stroke-linejoin="round" font-weight="bold" textLength="10.3" lengthAdjust="spacingAndGlyphs">26</text>
<text x="20.8" y="341.25" font-size="8.3" fill="#1a1a1a" stroke="#1a1a1a" stroke-width="0.3" stroke-linejoin="round" font-weight="bold" textLength="10.3" lengthAdjust="spacingAndGlyphs">28</text>
<text x="20.8" y="328.95" font-size="8.3" fill="#1a1a1a" stroke="#1a1a1a" stroke-width="0.3" stroke-linejoin="round" font-weight="bold" textLength="10.3" lengthAdjust="spacingAndGlyphs">30</text>
<text x="20.8" y="316.64" font-size="8.3" fill="#1a1a1a" stroke="#1a1a1a" stroke-width="0.3" stroke-linejoin="round" font-weight="bold" textLength="10.3" lengthAdjust="spacingAndGlyphs">32</text>
<text x="20.8" y="304.33" font-size="8.3" fill="#1a1a1a" stroke="#1a1a1a" stroke-width="0.3" stroke-linejoin="round" font-weight="bold" textLength="10.3" lengthAdjust="spacingAndGlyphs">34</text>
<text x="20.8" y="292.03" font-size="8.3" fill="#1a1a1a" stroke="#1a1a1a" stroke-width="0.3" stroke-linejoin="round" font-weight="bold" textLength="10.3" lengthAdjust="spacingAndGlyphs">36</text>
<text x="20.8" y="279.72" font-size="8.3" fill="#1a1a1a" stroke="#1a1a1a" stroke-width="0.3" stroke-linejoin="round" font-weight="bold" textLength="10.3" lengthAdjust="spacingAndGlyphs">38</text>
<text x="20.8" y="267.42" font-size="8.3" fill="#1a1a1a" stroke="#1a1a1a" stroke-width="0.3" stroke-linejoin="round" font-weight="bold" textLength="10.3" lengthAdjust="spacingAndGlyphs">40</text>
<text x="20.8" y="255.11" font-size="8.3" fill="#1a1a1a" stroke="#1a1a1a" stroke-width="0.3" stroke-linejoin="round" font-weight="bold" textLength="10.3" lengthAdjust="spacingAndGlyphs">42</text>
<text x="64.2" y="449" font-size="7.9" fill="#1a1a1a" stroke="#1a1a1a" stroke-width="0.2" stroke-linejoin="round" font-style="italic" font-weight="bold" textLength="12.3" lengthAdjust="spacingAndGlyphs">EH</text>
<text x="95.6" y="449" font-size="7.9" fill="#1a1a1a" stroke="#1a1a1a" stroke-width="0.2" stroke-linejoin="round" font-style="italic" font-weight="bold" textLength="13.5" lengthAdjust="spacingAndGlyphs">SM</text>
<text x="128.4" y="449" font-size="7.9" fill="#1a1a1a" stroke="#1a1a1a" stroke-width="0.2" stroke-linejoin="round" font-style="italic" font-weight="bold" textLength="11.9" lengthAdjust="spacingAndGlyphs">BT</text>
<text x="160.7" y="449" font-size="7.9" fill="#1a1a1a" stroke="#1a1a1a" stroke-width="0.2" stroke-linejoin="round" font-style="italic" font-weight="bold" textLength="11.3" lengthAdjust="spacingAndGlyphs">ES</text>
<text x="192.5" y="449" font-size="7.9" fill="#1a1a1a" stroke="#1a1a1a" stroke-width="0.2" stroke-linejoin="round" font-style="italic" font-weight="bold" textLength="11.7" lengthAdjust="spacingAndGlyphs">PD</text>
<text x="224.5" y="449" font-size="7.9" fill="#1a1a1a" stroke="#1a1a1a" stroke-width="0.2" stroke-linejoin="round" font-style="italic" font-weight="bold" textLength="11.7" lengthAdjust="spacingAndGlyphs">PC</text>
<text x="256.5" y="449" font-size="7.9" fill="#1a1a1a" stroke="#1a1a1a" stroke-width="0.2" stroke-linejoin="round" font-style="italic" font-weight="bold" textLength="11.7" lengthAdjust="spacingAndGlyphs">EC</text>
<text x="288.7" y="449" font-size="7.9" fill="#1a1a1a" stroke="#1a1a1a" stroke-width="0.2" stroke-linejoin="round" font-style="italic" font-weight="bold" textLength="11.3" lengthAdjust="spacingAndGlyphs">BS</text>
<text x="65.75" y="396.4" font-size="13.2" fill="#111" font-family="DejaVu Sans, Liberation Sans, sans-serif" stroke="#111" stroke-width="0.25" stroke-linejoin="round" font-weight="bold" textLength="9.3" lengthAdjust="spacingAndGlyphs">c</text>
<text x="97.35" y="271.7" font-size="13.2" fill="#111" font-family="DejaVu Sans, Liberation Sans, sans-serif" stroke="#111" stroke-width="0.25" stroke-linejoin="round" font-weight="bold" textLength="8.9" lengthAdjust="spacingAndGlyphs">a</text>
<text x="124.8" y="374.2" font-size="13.2" fill="#111" font-family="DejaVu Sans, Liberation Sans, sans-serif" stroke="#111" stroke-width="0.25" stroke-linejoin="round" font-weight="bold" textLength="19.4" lengthAdjust="spacingAndGlyphs">bc</text>
<text x="160.5" y="351.9" font-size="13.2" fill="#111" font-family="DejaVu Sans, Liberation Sans, sans-serif" stroke="#111" stroke-width="0.25" stroke-linejoin="round" font-weight="bold" textLength="9.8" lengthAdjust="spacingAndGlyphs">b</text>
<text x="187.2" y="286.7" font-size="13.2" fill="#111" font-family="DejaVu Sans, Liberation Sans, sans-serif" stroke="#111" stroke-width="0.25" stroke-linejoin="round" font-weight="bold" textLength="20.2" lengthAdjust="spacingAndGlyphs">ab</text>
<text x="224.7" y="342.7" font-size="13.2" fill="#111" font-family="DejaVu Sans, Liberation Sans, sans-serif" stroke="#111" stroke-width="0.25" stroke-linejoin="round" font-weight="bold" textLength="9.8" lengthAdjust="spacingAndGlyphs">b</text>
<text x="252.2" y="279.5" font-size="13.2" fill="#111" font-family="DejaVu Sans, Liberation Sans, sans-serif" stroke="#111" stroke-width="0.25" stroke-linejoin="round" font-weight="bold" textLength="20.2" lengthAdjust="spacingAndGlyphs">ab</text>
<text x="284.6" y="303.4" font-size="13.2" fill="#111" font-family="DejaVu Sans, Liberation Sans, sans-serif" stroke="#111" stroke-width="0.25" stroke-linejoin="round" font-weight="bold" textLength="20.2" lengthAdjust="spacingAndGlyphs">ab</text>
<path d="M67.15 400.1H72.75M67.15 413.2H72.75M99.15 273.9H104.75M99.15 287.2H104.75M131.15 376.8H136.75M131.15 397.2H136.75M163.15 356.4H168.75M163.15 369.7H168.75M195.15 291.8H200.75M195.15 308.9H200.75M227.15 346.4H232.75M227.15 359.9H232.75M259.15 282.9H264.75M259.15 300.9H264.75M291.15 306.8H296.75M291.15 325.2H296.75" fill="none" stroke="#111" stroke-width="1.35"/>
<path d="M69.95 400.1V413.2M101.95 273.9V287.2M133.95 376.8V397.2M165.95 356.4V369.7M197.95 291.8V308.9M229.95 346.4V359.9M261.95 282.9V300.9M293.95 306.8V325.2" fill="none" stroke="#111" stroke-width="1.9"/>
<rect x="37.9" y="254.7" width="57" height="11.3" fill="#fff" stroke="#8a8a8a" stroke-width="1.3"/>
<rect x="44.4" y="256.7" width="21.5" height="8" fill="#20ff2a"/><path d="M44.4 258.67L46.92 256.7M44.4 263.47L53.08 256.7M48.97 264.7L59.23 256.7M55.13 264.7L65.38 256.7M61.28 264.7L65.9 261.1" fill="none" stroke="#007400" stroke-width="1.05"/><rect x="44.4" y="256.7" width="21.5" height="8" fill="none" stroke="#2a552a" stroke-width="0.5"/>
<text x="69.2" y="263.3" font-size="8.3" fill="#222" stroke="#222" stroke-width="0.3" stroke-linejoin="round" textLength="20.2" lengthAdjust="spacingAndGlyphs">TAC</text>
<path d="M37.9 253V437.6" fill="none" stroke="#3c3c3c" stroke-width="1.4"/>
<text x="44.6" y="248.8" font-size="14" fill="#111" font-family="Liberation Sans, Arial, sans-serif" stroke="#111" stroke-width="0.2" stroke-linejoin="round" font-weight="bold" textLength="10" lengthAdjust="spacingAndGlyphs">C</text>
<text x="-103.95" y="0" transform="translate(11.2 330.45) rotate(-90)" font-size="10.8" font-weight="bold" fill="#1a1a1a" stroke="#1a1a1a" stroke-width="0.45" textLength="207.9" lengthAdjust="spacingAndGlyphs">Total Antioxidant Capacity (µg AAE/mg Extracts)</text>
<text x="133.8" y="460.6" font-size="10.2" fill="#1a1a1a" stroke="#1a1a1a" stroke-width="0.3" stroke-linejoin="round" textLength="97.5" lengthAdjust="spacingAndGlyphs">Bacterial Extracts</text>
</g>
<g id="panelD">
<rect x="414.9" y="381.7" width="25.7" height="55.4" fill="#00a09e"/><path d="M437.95 381.7L440.6 383.77M431.79 381.7L440.6 388.57M425.64 381.7L440.6 393.37M419.49 381.7L440.6 398.17M414.9 382.92L440.6 402.97M414.9 387.72L440.6 407.77M414.9 392.52L440.6 412.57M414.9 397.32L440.6 417.37M414.9 402.12L440.6 422.17M414.9 406.92L440.6 426.97M414.9 411.72L440.6 431.77M414.9 416.52L440.6 436.57M414.9 421.32L435.13 437.1M414.9 426.12L428.97 437.1M414.9 430.92L422.82 437.1M414.9 435.72L416.67 437.1" fill="none" stroke="#004646" stroke-width="1.05"/><rect x="414.9" y="381.7" width="25.7" height="55.4" fill="none" stroke="#1a4a4a" stroke-width="0.9"/>
<rect x="446.88" y="277.6" width="25.7" height="159.5" fill="#00a09e"/><path d="M470.64 277.6L472.58 279.11M464.49 277.6L472.58 283.91M458.33 277.6L472.58 288.71M452.18 277.6L472.58 293.51M446.88 278.27L472.58 298.31M446.88 283.07L472.58 303.11M446.88 287.87L472.58 307.91M446.88 292.67L472.58 312.71M446.88 297.47L472.58 317.51M446.88 302.27L472.58 322.31M446.88 307.07L472.58 327.11M446.88 311.87L472.58 331.91M446.88 316.67L472.58 336.71M446.88 321.47L472.58 341.51M446.88 326.27L472.58 346.31M446.88 331.07L472.58 351.11M446.88 335.87L472.58 355.91M446.88 340.67L472.58 360.71M446.88 345.47L472.58 365.51M446.88 350.27L472.58 370.31M446.88 355.07L472.58 375.11M446.88 359.87L472.58 379.91M446.88 364.67L472.58 384.71M446.88 369.47L472.58 389.51M446.88 374.27L472.58 394.31M446.88 379.07L472.58 399.11M446.88 383.87L472.58 403.91M446.88 388.67L472.58 408.71M446.88 393.47L472.58 413.51M446.88 398.27L472.58 418.31M446.88 403.07L472.58 423.11M446.88 407.87L472.58 427.91M446.88 412.67L472.58 432.71M446.88 417.47L472.05 437.1M446.88 422.27L465.9 437.1M446.88 427.07L459.74 437.1M446.88 431.87L453.59 437.1M446.88 436.67L447.44 437.1" fill="none" stroke="#004646" stroke-width="1.05"/><rect x="446.88" y="277.6" width="25.7" height="159.5" fill="none" stroke="#1a4a4a" stroke-width="0.9"/>
<rect x="478.86" y="405.8" width="25.7" height="31.3" fill="#00a09e"/><path d="M499.62 405.8L504.56 409.66M493.46 405.8L504.56 414.46M487.31 405.8L504.56 419.26M481.15 405.8L504.56 424.06M478.86 408.81L504.56 428.86M478.86 413.61L504.56 433.66M478.86 418.41L502.82 437.1M478.86 423.21L496.67 437.1M478.86 428.01L490.51 437.1M478.86 432.81L484.36 437.1" fill="none" stroke="#004646" stroke-width="1.05"/><rect x="478.86" y="405.8" width="25.7" height="31.3" fill="none" stroke="#1a4a4a" stroke-width="0.9"/>
<rect x="510.84" y="375.8" width="25.7" height="61.3" fill="#00a09e"/><path d="M535 375.8L536.54 377M528.85 375.8L536.54 381.8M522.69 375.8L536.54 386.6M516.54 375.8L536.54 391.4M510.84 376.16L536.54 396.2M510.84 380.96L536.54 401M510.84 385.76L536.54 405.8M510.84 390.56L536.54 410.6M510.84 395.36L536.54 415.4M510.84 400.16L536.54 420.2M510.84 404.96L536.54 425M510.84 409.76L536.54 429.8M510.84 414.56L536.54 434.6M510.84 419.36L533.59 437.1M510.84 424.16L527.44 437.1M510.84 428.96L521.28 437.1M510.84 433.76L515.13 437.1" fill="none" stroke="#004646" stroke-width="1.05"/><rect x="510.84" y="375.8" width="25.7" height="61.3" fill="none" stroke="#1a4a4a" stroke-width="0.9"/>
<rect x="542.82" y="334.5" width="25.7" height="102.6" fill="#00a09e"/><path d="M568.21 334.5L568.52 334.75M562.05 334.5L568.52 339.55M555.9 334.5L568.52 344.35M549.74 334.5L568.52 349.15M543.59 334.5L568.52 353.95M542.82 338.7L568.52 358.75M542.82 343.5L568.52 363.55M542.82 348.3L568.52 368.35M542.82 353.1L568.52 373.15M542.82 357.9L568.52 377.95M542.82 362.7L568.52 382.75M542.82 367.5L568.52 387.55M542.82 372.3L568.52 392.35M542.82 377.1L568.52 397.15M542.82 381.9L568.52 401.95M542.82 386.7L568.52 406.75M542.82 391.5L568.52 411.55M542.82 396.3L568.52 416.35M542.82 401.1L568.52 421.15M542.82 405.9L568.52 425.95M542.82 410.7L568.52 430.75M542.82 415.5L568.52 435.55M542.82 420.3L564.36 437.1M542.82 425.1L558.21 437.1M542.82 429.9L552.05 437.1M542.82 434.7L545.9 437.1" fill="none" stroke="#004646" stroke-width="1.05"/><rect x="542.82" y="334.5" width="25.7" height="102.6" fill="none" stroke="#1a4a4a" stroke-width="0.9"/>
<rect x="574.8" y="359.2" width="25.7" height="77.9" fill="#00a09e"/><path d="M599.87 359.2L600.5 359.69M593.72 359.2L600.5 364.49M587.56 359.2L600.5 369.29M581.41 359.2L600.5 374.09M575.26 359.2L600.5 378.89M574.8 363.64L600.5 383.69M574.8 368.44L600.5 388.49M574.8 373.24L600.5 393.29M574.8 378.04L600.5 398.09M574.8 382.84L600.5 402.89M574.8 387.64L600.5 407.69M574.8 392.44L600.5 412.49M574.8 397.24L600.5 417.29M574.8 402.04L600.5 422.09M574.8 406.84L600.5 426.89M574.8 411.64L600.5 431.69M574.8 416.44L600.5 436.49M574.8 421.24L595.13 437.1M574.8 426.04L588.97 437.1M574.8 430.84L582.82 437.1M574.8 435.64L576.67 437.1" fill="none" stroke="#004646" stroke-width="1.05"/><rect x="574.8" y="359.2" width="25.7" height="77.9" fill="none" stroke="#1a4a4a" stroke-width="0.9"/>
<rect x="606.78" y="412" width="25.7" height="25.1" fill="#00a09e"/><path d="M630.64 412L632.48 413.43M624.49 412L632.48 418.23M618.33 412L632.48 423.03M612.18 412L632.48 427.83M606.78 412.59L632.48 432.63M606.78 417.39L632.05 437.1M606.78 422.19L625.9 437.1M606.78 426.99L619.74 437.1M606.78 431.79L613.59 437.1M606.78 436.59L607.44 437.1" fill="none" stroke="#004646" stroke-width="1.05"/><rect x="606.78" y="412" width="25.7" height="25.1" fill="none" stroke="#1a4a4a" stroke-width="0.9"/>
<rect x="638.76" y="380.5" width="25.7" height="56.6" fill="#00a09e"/><path d="M664.1 380.5L664.46 380.78M657.95 380.5L664.46 385.58M651.79 380.5L664.46 390.38M645.64 380.5L664.46 395.18M639.49 380.5L664.46 399.98M638.76 384.73L664.46 404.78M638.76 389.53L664.46 409.58M638.76 394.33L664.46 414.38M638.76 399.13L664.46 419.18M638.76 403.93L664.46 423.98M638.76 408.73L664.46 428.78M638.76 413.53L664.46 433.58M638.76 418.33L662.82 437.1M638.76 423.13L656.67 437.1M638.76 427.93L650.51 437.1M638.76 432.73L644.36 437.1" fill="none" stroke="#004646" stroke-width="1.05"/><rect x="638.76" y="380.5" width="25.7" height="56.6" fill="none" stroke="#1a4a4a" stroke-width="0.9"/>
<path d="M395.4 253V437.1H683.6" fill="none" stroke="#3c3c3c" stroke-width="1.4"/>
<path d="M390.6 437.1H395.4M390.6 400.28H395.4M390.6 363.46H395.4M390.6 326.64H395.4M390.6 289.82H395.4M390.6 253H395.4M393.1 418.69H395.4M393.1 381.87H395.4M393.1 345.05H395.4M393.1 308.23H395.4M393.1 271.41H395.4M395.4 437.1V441.2M411.76 437.1V439.3M427.75 437.1V441.2M443.74 437.1V439.3M459.73 437.1V441.2M475.72 437.1V439.3M491.71 437.1V441.2M507.7 437.1V439.3M523.69 437.1V441.2M539.68 437.1V439.3M555.67 437.1V441.2M571.66 437.1V439.3M587.65 437.1V441.2M603.64 437.1V439.3M619.63 437.1V441.2M635.62 437.1V439.3M651.61 437.1V441.2M667.6 437.1V439.3M683.6 437.1V441.2" fill="none" stroke="#3c3c3c" stroke-width="1.4"/>
<text x="373.3" y="439.2" font-size="8.3" fill="#1a1a1a" stroke="#1a1a1a" stroke-width="0.3" stroke-linejoin="round" font-weight="bold" textLength="15.3" lengthAdjust="spacingAndGlyphs">120</text>
<text x="373.3" y="402.38" font-size="8.3" fill="#1a1a1a" stroke="#1a1a1a" stroke-width="0.3" stroke-linejoin="round" font-weight="bold" textLength="15.3" lengthAdjust="spacingAndGlyphs">140</text>
<text x="373.3" y="365.56" font-size="8.3" fill="#1a1a1a" stroke="#1a1a1a" stroke-width="0.3" stroke-linejoin="round" font-weight="bold" textLength="15.3" lengthAdjust="spacingAndGlyphs">160</text>
<text x="373.3" y="328.74" font-size="8.3" fill="#1a1a1a" stroke="#1a1a1a" stroke-width="0.3" stroke-linejoin="round" font-weight="bold" textLength="15.3" lengthAdjust="spacingAndGlyphs">180</text>
<text x="373.3" y="291.92" font-size="8.3" fill="#1a1a1a" stroke="#1a1a1a" stroke-width="0.3" stroke-linejoin="round" font-weight="bold" textLength="15.3" lengthAdjust="spacingAndGlyphs">200</text>
<text x="373.3" y="255.1" font-size="8.3" fill="#1a1a1a" stroke="#1a1a1a" stroke-width="0.3" stroke-linejoin="round" font-weight="bold" textLength="15.3" lengthAdjust="spacingAndGlyphs">220</text>
<text x="421.6" y="448.8" font-size="7.9" fill="#1a1a1a" stroke="#1a1a1a" stroke-width="0.2" stroke-linejoin="round" font-style="italic" font-weight="bold" textLength="12.3" lengthAdjust="spacingAndGlyphs">EH</text>
<text x="452.98" y="448.8" font-size="7.9" fill="#1a1a1a" stroke="#1a1a1a" stroke-width="0.2" stroke-linejoin="round" font-style="italic" font-weight="bold" textLength="13.5" lengthAdjust="spacingAndGlyphs">SM</text>
<text x="485.76" y="448.8" font-size="7.9" fill="#1a1a1a" stroke="#1a1a1a" stroke-width="0.2" stroke-linejoin="round" font-style="italic" font-weight="bold" textLength="11.9" lengthAdjust="spacingAndGlyphs">BT</text>
<text x="518.04" y="448.8" font-size="7.9" fill="#1a1a1a" stroke="#1a1a1a" stroke-width="0.2" stroke-linejoin="round" font-style="italic" font-weight="bold" textLength="11.3" lengthAdjust="spacingAndGlyphs">ES</text>
<text x="549.82" y="448.8" font-size="7.9" fill="#1a1a1a" stroke="#1a1a1a" stroke-width="0.2" stroke-linejoin="round" font-style="italic" font-weight="bold" textLength="11.7" lengthAdjust="spacingAndGlyphs">PD</text>
<text x="581.8" y="448.8" font-size="7.9" fill="#1a1a1a" stroke="#1a1a1a" stroke-width="0.2" stroke-linejoin="round" font-style="italic" font-weight="bold" textLength="11.7" lengthAdjust="spacingAndGlyphs">PC</text>
<text x="613.78" y="448.8" font-size="7.9" fill="#1a1a1a" stroke="#1a1a1a" stroke-width="0.2" stroke-linejoin="round" font-style="italic" font-weight="bold" textLength="11.7" lengthAdjust="spacingAndGlyphs">EC</text>
<text x="645.96" y="448.8" font-size="7.9" fill="#1a1a1a" stroke="#1a1a1a" stroke-width="0.2" stroke-linejoin="round" font-style="italic" font-weight="bold" textLength="11.3" lengthAdjust="spacingAndGlyphs">BS</text>
<text x="418.6" y="374.4" font-size="13.2" fill="#111" font-family="DejaVu Sans, Liberation Sans, sans-serif" stroke="#111" stroke-width="0.25" stroke-linejoin="round" font-weight="bold" textLength="19.4" lengthAdjust="spacingAndGlyphs">bc</text>
<text x="456.15" y="273" font-size="13.2" fill="#111" font-family="DejaVu Sans, Liberation Sans, sans-serif" stroke="#111" stroke-width="0.25" stroke-linejoin="round" font-weight="bold" textLength="8.9" lengthAdjust="spacingAndGlyphs">a</text>
<text x="487.35" y="398.5" font-size="13.2" fill="#111" font-family="DejaVu Sans, Liberation Sans, sans-serif" stroke="#111" stroke-width="0.25" stroke-linejoin="round" font-weight="bold" textLength="9.3" lengthAdjust="spacingAndGlyphs">c</text>
<text x="512.8" y="366.9" font-size="13.2" fill="#111" font-family="DejaVu Sans, Liberation Sans, sans-serif" stroke="#111" stroke-width="0.25" stroke-linejoin="round" font-weight="bold" textLength="19.4" lengthAdjust="spacingAndGlyphs">bc</text>
<text x="550.8" y="327.7" font-size="13.2" fill="#111" font-family="DejaVu Sans, Liberation Sans, sans-serif" stroke="#111" stroke-width="0.25" stroke-linejoin="round" font-weight="bold" textLength="9.8" lengthAdjust="spacingAndGlyphs">b</text>
<text x="577.8" y="353.5" font-size="13.2" fill="#111" font-family="DejaVu Sans, Liberation Sans, sans-serif" stroke="#111" stroke-width="0.25" stroke-linejoin="round" font-weight="bold" textLength="19.4" lengthAdjust="spacingAndGlyphs">bc</text>
<text x="615.55" y="406.9" font-size="13.2" fill="#111" font-family="DejaVu Sans, Liberation Sans, sans-serif" stroke="#111" stroke-width="0.25" stroke-linejoin="round" font-weight="bold" textLength="9.3" lengthAdjust="spacingAndGlyphs">c</text>
<text x="643" y="373.5" font-size="13.2" fill="#111" font-family="DejaVu Sans, Liberation Sans, sans-serif" stroke="#111" stroke-width="0.25" stroke-linejoin="round" font-weight="bold" textLength="19.4" lengthAdjust="spacingAndGlyphs">bc</text>
<path d="M424.95 377.6H430.55M424.95 385.6H430.55M456.93 274.8H462.53M456.93 279.7H462.53M488.91 403.1H494.51M488.91 408.9H494.51M520.89 371.4H526.49M520.89 380.7H526.49M552.87 332.3H558.47M552.87 336.9H558.47M584.85 355.9H590.45M584.85 362.2H590.45M616.83 409.3H622.43M616.83 414.9H622.43M648.81 376.1H654.41M648.81 384.9H654.41" fill="none" stroke="#111" stroke-width="1.35"/>
<path d="M427.75 377.6V385.6M459.73 274.8V279.7M491.71 403.1V408.9M523.69 371.4V380.7M555.67 332.3V336.9M587.65 355.9V362.2M619.63 409.3V414.9M651.61 376.1V384.9" fill="none" stroke="#111" stroke-width="1.9"/>
<rect x="395.4" y="255" width="56.9" height="10.7" fill="#fff" stroke="#8a8a8a" stroke-width="1.3"/>
<rect x="402.2" y="256.5" width="21.2" height="7.7" fill="#00a09e"/><path d="M418.97 256.5L423.4 259.95M412.82 256.5L422.69 264.2M406.67 256.5L416.54 264.2M402.2 257.82L410.38 264.2M402.2 262.62L404.23 264.2" fill="none" stroke="#004646" stroke-width="1.05"/><rect x="402.2" y="256.5" width="21.2" height="7.7" fill="none" stroke="#1a4a4a" stroke-width="0.5"/>
<text x="427.6" y="263.3" font-size="8.3" fill="#222" stroke="#222" stroke-width="0.3" stroke-linejoin="round" textLength="19.8" lengthAdjust="spacingAndGlyphs">TRP</text>
<path d="M395.4 253V437.1" fill="none" stroke="#3c3c3c" stroke-width="1.4"/>
<text x="400" y="249" font-size="14" fill="#111" font-family="Liberation Sans, Arial, sans-serif" stroke="#111" stroke-width="0.2" stroke-linejoin="round" font-weight="bold" textLength="9.8" lengthAdjust="spacingAndGlyphs">D</text>
<text x="-94.45" y="0" transform="translate(366.6 341.75) rotate(-90)" font-size="10.8" font-weight="bold" fill="#1a1a1a" stroke="#1a1a1a" stroke-width="0.45" textLength="188.9" lengthAdjust="spacingAndGlyphs">Total Reducing Power (µg AAE/mg Extracts)</text>
<text x="493" y="461.1" font-size="10.2" fill="#1a1a1a" stroke="#1a1a1a" stroke-width="0.3" stroke-linejoin="round" textLength="95.2" lengthAdjust="spacingAndGlyphs">Bacterial Extracts</text>
</g>
</g>
</svg>
</body>
</html>
